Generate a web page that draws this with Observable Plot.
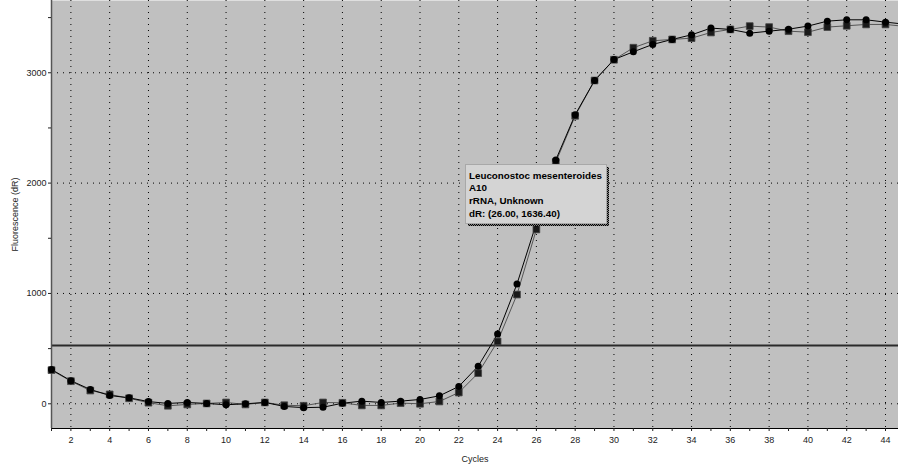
<!DOCTYPE html>
<html><head><meta charset="utf-8">
<script src="https://cdn.jsdelivr.net/npm/d3@7"></script>
<script src="https://cdn.jsdelivr.net/npm/@observablehq/plot@0.6"></script>
<style>
body{margin:0;background:#fff;}
svg{display:block;}
</style></head><body><div id="chart"></div>
<script>
const cycles = [1,2,3,4,5,6,7,8,9,10,11,12,13,14,15,16,17,18,19,20,21,22,23,24,25,26,27,28,29,30,31,32,33,34,35,36,37,38,39,40,41,42,43,44,45];
const seriesCircle = [311,209,130,75,54,20,3,12,3,-9,0,12,-24,-35,-31,5,24,12,24,39,72,157,341,632,1086,1636.4,2210,2620,2930,3120,3190,3257,3302,3344,3405,3393,3359,3377,3395,3423,3468,3480,3480,3459,3440];
const seriesSquare = [305,205,120,85,50,10,-18,-6,3,12,-6,12,-13,-18,12,9,-15,-15,6,0,21,102,278,565,990,1580,2190,2610,2930,3118,3227,3290,3302,3314,3365,3393,3423,3414,3377,3368,3414,3426,3438,3438,3420];
const xTickValues = cycles.slice(0, 44);
const xLabelCycles = [2,4,6,8,10,12,14,16,18,20,22,24,26,28,30,32,34,36,38,40,42,44];
const yTickValues = [0,500,1000,1500,2000,2500,3000,3500];
const yLabelValues = [0,1000,2000,3000];
const threshold = [528];
const xDomain = [1, 44.67];
const yDomain = [-224, 3655];
const tooltipLines = ["Leuconostoc mesenteroides", "A10", "rRNA, Unknown", "dR: (26.00, 1636.40)"];
const tooltipPoint = {cycle: 26, value: 1636.40};

const rowsCircle = cycles.map((c, i) => ({cycle: c, value: seriesCircle[i]}));
const rowsSquare = cycles.map((c, i) => ({cycle: c, value: seriesSquare[i]}));

const chart = Plot.plot({
  width: 898, height: 472,
  marginLeft: 51, marginRight: 0, marginTop: 0, marginBottom: 44,
  style: {fontFamily: "'Liberation Sans', Arial, sans-serif", fontSize: "9px", background: "#fff", color: "#222"},
  x: {domain: xDomain},
  y: {domain: yDomain},
  marks: [
    Plot.frame({fill: "#c0c0c0", stroke: null}),
    Plot.ruleX(xLabelCycles, {stroke: "#000", strokeDasharray: "1,5"}),
    Plot.ruleY(yLabelValues, {stroke: "#000", strokeDasharray: "1,5"}),
    Plot.ruleY(threshold, {stroke: "#2a2a2a", strokeWidth: 2}),
    Plot.ruleY([yDomain[0]], {stroke: "#000", strokeWidth: 1}),
    Plot.ruleX([xDomain[0]], {stroke: "#555", strokeWidth: 1.5}),
    Plot.line(rowsSquare, {x: "cycle", y: "value", stroke: "#555", strokeWidth: 1}),
    Plot.line(rowsCircle, {x: "cycle", y: "value", stroke: "#000", strokeWidth: 1}),
    Plot.dot(rowsSquare, {x: "cycle", y: "value", r: 3.8, fill: "#1a1a1a", stroke: "#444", strokeWidth: 0.8, symbol: "square"}),
    Plot.dot(rowsCircle, {x: "cycle", y: "value", r: 3.5, fill: "#000", symbol: "circle"}),
    Plot.axisX({ticks: xTickValues, tickSize: 3, tickPadding: 5,
      tickFormat: d => xLabelCycles.includes(d) ? String(d) : "",
      label: "Cycles", labelAnchor: "center", labelArrow: false, labelOffset: 33}),
    Plot.axisY({ticks: yTickValues, tickSize: 3, tickPadding: 2,
      tickFormat: d => yLabelValues.includes(d) ? String(d) : "",
      label: "Fluorescence (dR)", labelAnchor: "center", labelArrow: false, labelOffset: 40})
  ]
});
document.getElementById("chart").appendChild(chart);

// tooltip annotation anchored at the hovered data point through the scales
const sx = chart.scale("x"), sy = chart.scale("y");
const px = sx.apply(tooltipPoint.cycle), py = sy.apply(tooltipPoint.value);
const svg = d3.select(chart);
const defs = svg.append("defs");
const pat = defs.append("pattern").attr("id", "hatch").attr("width", 2).attr("height", 2).attr("patternUnits", "userSpaceOnUse");
pat.append("rect").attr("width", 2).attr("height", 2).attr("fill", "#808080");
pat.append("rect").attr("width", 1).attr("height", 1).attr("fill", "#000");
pat.append("rect").attr("x", 1).attr("y", 1).attr("width", 1).attr("height", 1).attr("fill", "#000");
const bw = 141, bh = 59;
const x0 = Math.round(px - 70.5), y0 = Math.round(py - bh);
const g = svg.append("g").attr("text-anchor", "start");
g.append("rect").attr("x", x0 + 3).attr("y", y0 + 3).attr("width", bw).attr("height", bh).attr("fill", "url(#hatch)");
g.append("rect").attr("x", x0 + 0.5).attr("y", y0 + 0.5).attr("width", bw).attr("height", bh).attr("fill", "#d4d4d4").attr("stroke", "#a8a8a8");
tooltipLines.forEach((t, i) => {
  g.append("text").attr("x", x0 + 4).attr("y", y0 + 14.5 + i * 12.9)
    .attr("text-anchor", "start")
    .attr("font-family", "'Liberation Sans', Arial, sans-serif").attr("font-weight", "bold")
    .attr("font-size", "9.8px").attr("fill", "#000").text(t);
});
</script>
</body></html>
